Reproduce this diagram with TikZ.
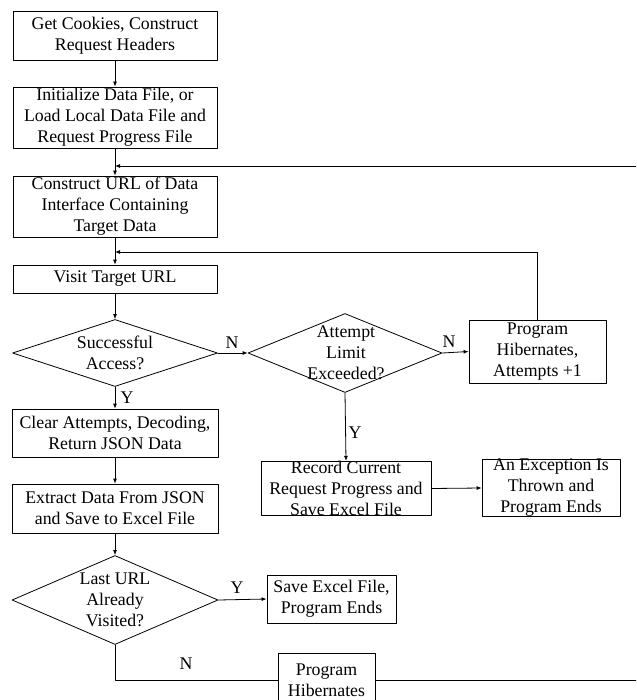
\documentclass[tikz,border=0pt]{standalone}
\usepackage{fontspec}
\setmainfont{Liberation Serif}
\usetikzlibrary{shapes.geometric,arrows.meta}

\begin{document}
\begin{tikzpicture}[x=1pt,y=-1pt,line cap=round,line join=round,
	font=\fontsize{17.8}{21}\selectfont,
	box/.style={draw,line width=0.8pt,align=center,inner sep=0pt},
	decision/.style={draw,diamond,line width=0.8pt,inner sep=0pt},
	txt/.style={align=center,inner sep=0pt},
	flow/.style={line width=0.8pt,-{Latex[length=5pt,width=4pt]}},
	link/.style={line width=0.8pt}]
			\clip (0,0) rectangle (636,700);
			% main column
			\node[box,minimum width=204,minimum height=49] (cookies) at (115,35.5) {Get Cookies, Construct\\Request Headers};
			\node[box,minimum width=204,minimum height=61] (init) at (115,117.5) {Initialize Data File, or\\Load Local Data File and\\Request Progress File};
			\node[box,minimum width=204,minimum height=61] (url) at (115,206.5) {Construct URL of Data\\Interface Containing\\Target Data};
			\node[box,minimum width=204,minimum height=28] (visit) at (115,279) {Visit Target URL};
			\node[decision,minimum width=205,minimum height=67] (access) at (115,353) {};
			\node[txt] (accessT) at (access) {Successful\\Access?};
			\node[box,minimum width=206,minimum height=48] (clear) at (115,433) {Clear Attempts, Decoding,\\Return JSON Data};
			\node[box,minimum width=206,minimum height=49] (extract) at (115,508.5) {Extract Data From JSON\\and Save to Excel File};
			\node[decision,minimum width=206,minimum height=89] (last) at (115,600) {};
			\node[txt] (lastT) at (last) {Last URL\\Already\\Visited?};
			% retry branch
			\node[decision,minimum width=194,minimum height=79] (limit) at (345,353) {};
			\node[txt] (limitT) at (346,353) {Attempt\\Limit\\Exceeded?};
			\node[box,minimum width=137,minimum height=63] (hib1) at (537.5,351.5) {Program\\Hibernates,\\Attempts +1};
			\node[box,minimum width=170,minimum height=51] (record) at (346,488.5) {Record Current\\Request Progress and\\Save Excel File};
			\node[box,minimum width=138,minimum height=52] (exc) at (551,488) {An Exception Is\\Thrown and\\Program Ends};
			% end branch
			\node[box,minimum width=129,minimum height=48] (save) at (331.5,599) {Save Excel File,\\Program Ends};
			\node[box,minimum width=97,minimum height=54] (hib2) at (326.5,680) {Program\\Hibernates};
			\coordinate (j1) at (115,166);
			\coordinate (j2) at (115,252);
			\coordinate (far) at (660,166);
			% connectors
			\draw[flow] (cookies) -- (init);
			\draw[flow] (init) -- (url);
			\draw[flow] (url) -- (visit);
			\draw[flow] (visit) -- (access);
			\draw[flow] (access) -- (clear);
			\draw[flow] (clear) -- (extract);
			\draw[flow] (extract) -- (last);
			\draw[flow] (access.east) -- (limit.west);
			\draw[flow] (limit.east) -- (hib1.west);
			\draw[flow] (limit.south) -- (record.north);
			\draw[flow] (record.east) -- (exc.west);
			\draw[flow] (last.east) -- (save.west);
			\draw[flow] (hib1.north) |- (j2);
			\draw[link] (last.south) |- (hib2.west);
			\draw[flow] (hib2.east) -| (far) -- (j1);
			% branch labels
			\node[txt] (n1) at (232,343) {N};
			\node[txt] (y1) at (127,398) {Y};
			\node[txt] (n2) at (449,342) {N};
			\node[txt] (y2) at (355,433) {Y};
			\node[txt] (y3) at (237,588) {Y};
			\node[txt] (n3) at (186,664) {N};
\end{tikzpicture}
\end{document}
